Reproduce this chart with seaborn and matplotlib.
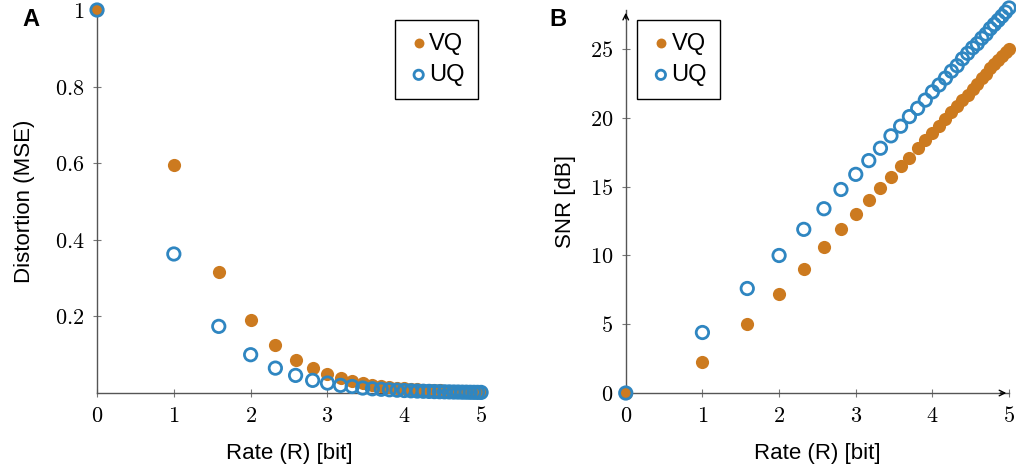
import matplotlib
matplotlib.use("Agg")
import matplotlib.pyplot as plt
import seaborn as sns
import pandas as pd

rate = [0, 1, 1.585, 2, 2.322, 2.585, 2.807, 3, 3.170, 3.322, 3.459, 3.585, 3.700,
        3.807, 3.907, 4, 4.087, 4.170, 4.248, 4.322, 4.392, 4.459, 4.524, 4.585,
        4.644, 4.700, 4.755, 4.807, 4.858, 4.907, 4.954, 5]

# panel A: distortion (MSE)
dist_vq = [1.0, 0.596, 0.317, 0.19, 0.125, 0.087, 0.065, 0.050, 0.040, 0.032, 0.027,
           0.022, 0.019, 0.017, 0.014, 0.013, 0.011, 0.010, 0.009, 0.008, 0.0074,
           0.0068, 0.0062, 0.0056, 0.0052, 0.0048, 0.0044, 0.0041, 0.0038, 0.0035,
           0.0033, 0.0032]
dist_uq = [1.0, 0.363, 0.174, 0.100, 0.065, 0.046, 0.033, 0.026, 0.020, 0.017, 0.013,
           0.011, 0.0098, 0.0085, 0.0074, 0.0065, 0.0058, 0.0051, 0.0046, 0.0042,
           0.0037, 0.0034, 0.0031, 0.0029, 0.0026, 0.0025, 0.0022, 0.0021, 0.0019,
           0.0018, 0.0017, 0.0016]

# panel B: SNR [dB]
snr_vq = [0, 2.25, 5.0, 7.2, 9.0, 10.6, 11.9, 13.0, 14.0, 14.9, 15.7, 16.5, 17.1,
          17.8, 18.4, 18.9, 19.4, 19.9, 20.4, 20.9, 21.3, 21.7, 22.1, 22.5, 22.9,
          23.2, 23.6, 23.9, 24.2, 24.5, 24.8, 25.0]
snr_uq = [0, 4.4, 7.6, 10.0, 11.9, 13.4, 14.8, 15.9, 16.9, 17.8, 18.7, 19.4, 20.1,
          20.7, 21.3, 21.9, 22.4, 22.9, 23.4, 23.8, 24.3, 24.7, 25.1, 25.4, 25.8,
          26.1, 26.5, 26.8, 27.1, 27.4, 27.7, 28.0]

x_ticks = [0, 1, 2, 3, 4, 5]
a_yticks = [0.2, 0.4, 0.6, 0.8, 1]
a_yticklabels = ["0.2", "0.4", "0.6", "0.8", "1"]
b_yticks = [0, 5, 10, 15, 20, 25]

ORANGE = "#cc7a1f"
BLUE = "#2f86c1"
AXCOL = "#555555"

sns.set_style("white")
plt.rcParams["font.family"] = ["Liberation Sans", "DejaVu Sans"]
plt.rcParams["mathtext.fontset"] = "cm"
plt.rcParams["text.color"] = "black"
plt.rcParams["axes.labelcolor"] = "black"
plt.rcParams["xtick.labelcolor"] = "black"
plt.rcParams["ytick.labelcolor"] = "black"

df = pd.DataFrame({"rate": rate, "dist_vq": dist_vq, "dist_uq": dist_uq,
                   "snr_vq": snr_vq, "snr_uq": snr_uq})

fig = plt.figure(figsize=(10.16, 4.70), dpi=100)
ax_a = fig.add_axes([0.0955, 0.1638, 0.378, 0.8149])
ax_b = fig.add_axes([0.6159, 0.1638, 0.3773, 0.8149])


def draw_panel(ax, col_vq, col_uq):
    sns.scatterplot(data=df, x="rate", y=col_vq, ax=ax, color=ORANGE, s=90,
                    linewidth=0, label="VQ", clip_on=False, zorder=3)
    sns.scatterplot(data=df, x="rate", y=col_uq, ax=ax, facecolor="none",
                    edgecolor=BLUE, color=BLUE, s=80, linewidth=2.0,
                    label="UQ", clip_on=False, zorder=4)
    sns.despine(ax=ax)
    for side in ["left", "bottom"]:
        ax.spines[side].set_color(AXCOL)
        ax.spines[side].set_linewidth(1.0)
    ax.tick_params(direction="inout", length=6, width=0.8, color="#777777",
                   pad=6, labelsize=16, left=True, bottom=True)
    ax.set_xlim(0, 5)
    ax.set_xticks(x_ticks)
    ax.set_xticklabels([f"${t}$" for t in x_ticks])
    ax.set_xlabel("Rate (R) [bit]", fontsize=16, labelpad=12)


def add_legend(ax, anchor):
    leg = ax.legend(loc="upper left", bbox_to_anchor=anchor, borderaxespad=0,
                    fontsize=17, frameon=True, fancybox=False, edgecolor="black",
                    framealpha=1, markerscale=0.75, handletextpad=0.0,
                    borderpad=0.55, labelspacing=0.4, handlelength=0.9)
    leg.get_frame().set_linewidth(1.0)


# panel A
draw_panel(ax_a, "dist_vq", "dist_uq")
ax_a.set_ylim(0, 1)
ax_a.set_yticks(a_yticks)
ax_a.set_yticklabels([f"${t}$" for t in a_yticklabels])
ax_a.set_ylabel("Distortion (MSE)", fontsize=16, labelpad=14)
add_legend(ax_a, (0.776, 0.975))
fig.text(0.022, 0.958, "A", fontsize=17, fontweight="bold", va="center")

# panel B
draw_panel(ax_b, "snr_vq", "snr_uq")
ax_b.set_ylim(0, 27.85)
ax_b.set_yticks(b_yticks)
ax_b.set_yticklabels([f"${t}$" for t in b_yticks])
ax_b.set_ylabel("SNR [dB]", fontsize=16, labelpad=10)
add_legend(ax_b, (0.03, 0.975))
ax_b.annotate("", xy=(1.0, 0), xytext=(0.97, 0), xycoords="axes fraction",
              arrowprops=dict(arrowstyle="->", color="black", lw=1.0))
ax_b.annotate("", xy=(0, 1.0), xytext=(0, 0.97), xycoords="axes fraction",
              arrowprops=dict(arrowstyle="->", color="black", lw=1.0))
fig.text(0.541, 0.958, "B", fontsize=17, fontweight="bold", va="center")

fig.savefig("out.png", dpi=100)
